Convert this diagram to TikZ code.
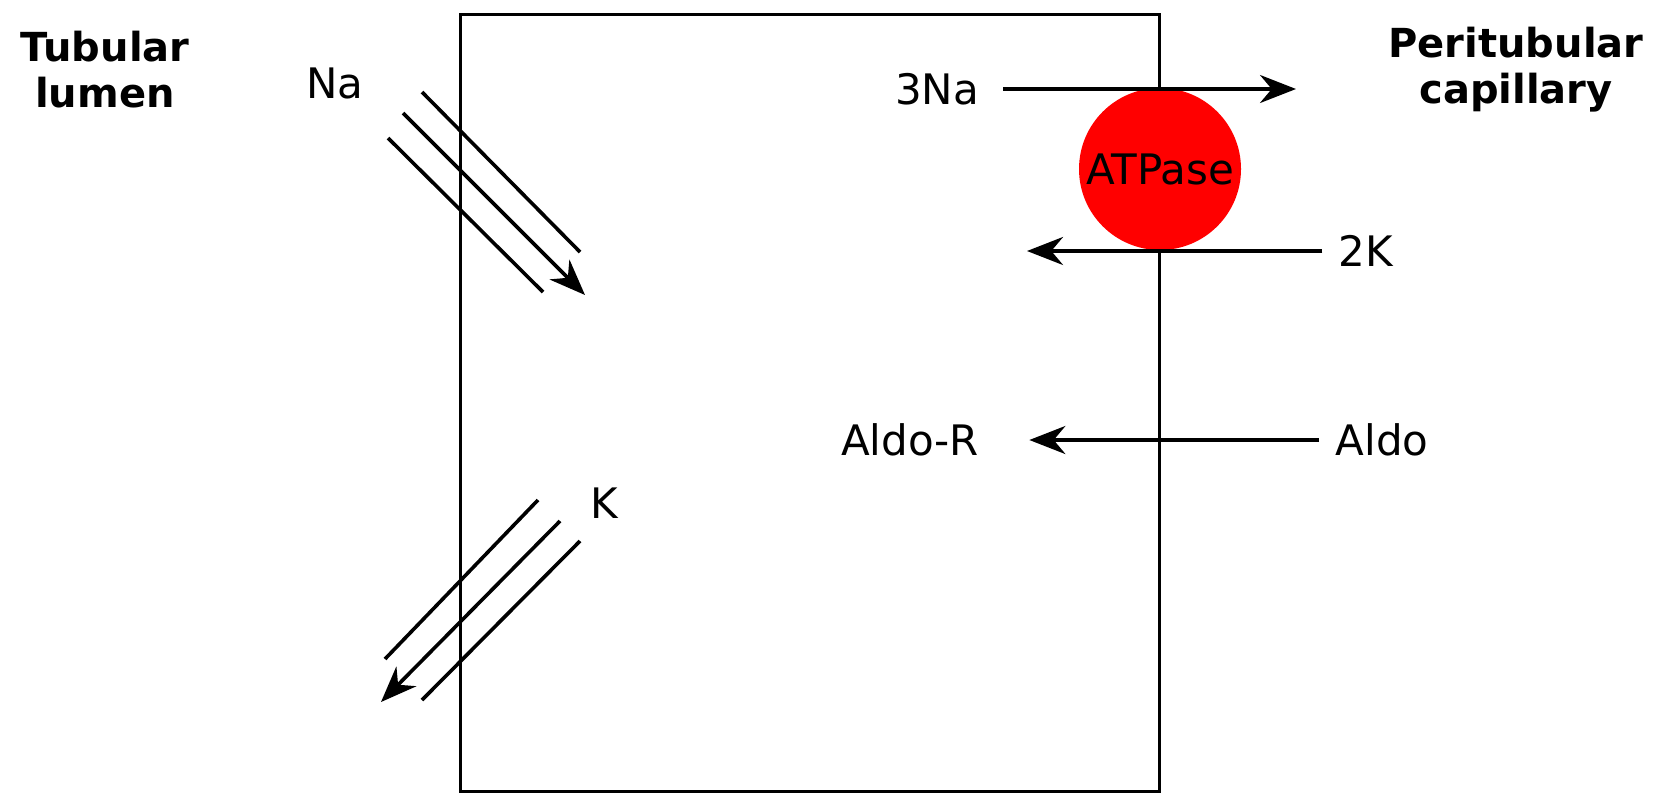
\documentclass[tikz,border=0pt]{standalone}
\usepackage{fontspec}
\setmainfont{DejaVu Sans}
\usetikzlibrary{arrows.meta}

\begin{document}
\begin{tikzpicture}[x=0.5pt, y=-0.5pt, >={Stealth[length=18pt, width=14pt]},
  cell/.style={draw, line width=1.3pt, minimum width=349.5pt, minimum height=388.5pt, inner sep=0pt},
  flow/.style={->, line width=1.8pt},
  wall/.style={line width=1.8pt},
  side/.style={font=\fontsize{20}{23}\selectfont\bfseries, align=center},
  ion/.style={font=\fontsize{21}{25}\selectfont, inner sep=8pt},
  pump/.style={circle, fill=red, minimum size=81pt, inner sep=0pt, font=\fontsize{21}{25}\selectfont}]

\useasboundingbox (0,0) rectangle (1663,793);

% --- Cell ---
\node[cell, anchor=north west] (cell) at (459,13) {};

% --- Sides ---
\node[side] (lumen) at (105,70) {Tubular\\lumen};
\node[side] (capillary) at (1516,70) {Peritubular\\capillary};

% --- Na/K-ATPase ---
\node[pump] (atpase) at (1160,169) {ATPase};

% --- Ions ---
\node[ion] (na) at (335,83) {Na};
\node[ion] (k) at (604,503) {K};
\node[ion] (threena) at (937,89) {3Na};
\node[ion] (twok) at (1366,251) {2K};
\node[ion] (aldo) at (1382,440) {Aldo};
\node[ion] (aldor) at (910,440) {Aldo-R};

% --- Na channel ---
\coordinate (na1s) at (422,92);  \coordinate (na1e) at (580,252);
\coordinate (na2s) at (403,113); \coordinate (na2e) at (585,295);
\coordinate (na3s) at (388,138); \coordinate (na3e) at (543,292);
\draw[wall] (na1s) -- (na1e);
\draw[flow] (na2s) -- (na2e);
\draw[wall] (na3s) -- (na3e);

% --- K channel ---
\coordinate (k1s) at (538,500); \coordinate (k1e) at (385,659);
\coordinate (k2s) at (560,521); \coordinate (k2e) at (381,702);
\coordinate (k3s) at (580,541); \coordinate (k3e) at (422,700);
\draw[wall] (k1s) -- (k1e);
\draw[flow] (k2s) -- (k2e);
\draw[wall] (k3s) -- (k3e);

% --- Pump fluxes ---
\coordinate (naout) at (1296,89);
\coordinate (kin) at (1027,251);
\draw[flow, shorten <=4pt] (threena) -- (naout);
\draw[flow] (twok) -- (kin);

% --- Aldosterone ---
\draw[flow, shorten >=17pt] (aldo) -- (aldor);

\end{tikzpicture}
\end{document}
